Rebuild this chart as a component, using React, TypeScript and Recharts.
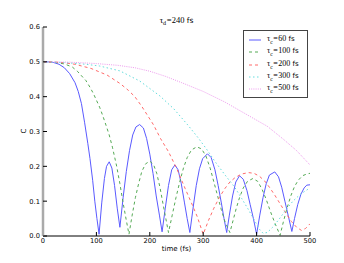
import { LineChart, Line, XAxis, YAxis } from 'recharts';

/* Coherence C(t) for several tau_c at tau_d = 240 fs. */

const X_TICKS = [0, 100, 200, 300, 400, 500];
const Y_TICKS = [0, 0.1, 0.2, 0.3, 0.4, 0.5, 0.6];

const T60 = [0, 10, 20, 30, 40, 50, 60, 66, 72, 78, 84, 88, 93, 97, 101, 105, 110, 115, 119, 124, 129, 134, 139, 144, 150, 156, 162, 168, 174, 181, 188, 194, 200, 206, 212, 218, 223, 229, 235, 241, 247, 253, 259, 265, 270, 275, 281, 287, 293, 299, 308, 315, 322, 328, 334, 339, 344, 349, 355, 361, 368, 375, 382, 388, 394, 400, 406, 412, 418, 424, 434, 441, 447, 453, 459, 466, 471, 477, 483, 489, 494, 500];
const C60 = [0.5, 0.5, 0.498, 0.493, 0.483, 0.466, 0.44, 0.415, 0.38, 0.325, 0.265, 0.222, 0.16, 0.1, 0.05, 0.005, 0.095, 0.165, 0.2, 0.213, 0.195, 0.145, 0.08, 0.025, 0.11, 0.185, 0.245, 0.29, 0.313, 0.32, 0.31, 0.28, 0.235, 0.18, 0.115, 0.06, 0.012, 0.08, 0.145, 0.19, 0.204, 0.19, 0.15, 0.095, 0.05, 0.01, 0.08, 0.145, 0.193, 0.222, 0.236, 0.225, 0.19, 0.145, 0.095, 0.05, 0.01, 0.06, 0.115, 0.155, 0.173, 0.163, 0.13, 0.09, 0.05, 0.005, 0.06, 0.11, 0.15, 0.175, 0.184, 0.17, 0.14, 0.1, 0.06, 0.013, 0.05, 0.09, 0.12, 0.138, 0.146, 0.147];

const T100 = [0, 20, 40, 55, 65, 75, 80, 88, 94, 100, 106, 112, 118, 124, 130, 138, 144, 150, 156, 161, 167, 173, 179, 185, 192, 200, 207, 213, 219, 225, 230, 235, 242, 249, 256, 263, 270, 278, 288, 297, 305, 313, 320, 327, 334, 341, 350, 356, 362, 368, 375, 383, 393, 402, 410, 418, 426, 434, 444, 450, 457, 464, 471, 478, 486, 494, 500];
const C100 = [0.5, 0.499, 0.494, 0.485, 0.472, 0.455, 0.447, 0.427, 0.41, 0.39, 0.37, 0.345, 0.318, 0.29, 0.255, 0.2, 0.15, 0.095, 0.045, 0.005, 0.06, 0.11, 0.15, 0.185, 0.207, 0.215, 0.205, 0.18, 0.14, 0.09, 0.05, 0.01, 0.06, 0.11, 0.155, 0.195, 0.225, 0.247, 0.256, 0.25, 0.23, 0.195, 0.155, 0.115, 0.075, 0.04, 0.01, 0.045, 0.08, 0.11, 0.138, 0.157, 0.165, 0.157, 0.135, 0.105, 0.07, 0.038, 0.002, 0.04, 0.08, 0.115, 0.142, 0.16, 0.173, 0.178, 0.18];

const T200 = [0, 30, 60, 90, 120, 145, 160, 172, 185, 195, 207, 220, 235, 250, 266, 278, 289, 300, 310, 320, 330, 340, 350, 360, 372, 385, 395, 405, 415, 425, 435, 445, 455, 465, 475, 484, 492, 500];
const C200 = [0.5, 0.499, 0.493, 0.481, 0.462, 0.437, 0.418, 0.4, 0.372, 0.348, 0.319, 0.28, 0.242, 0.195, 0.137, 0.095, 0.055, 0.005, 0.045, 0.08, 0.11, 0.135, 0.155, 0.168, 0.178, 0.182, 0.18, 0.172, 0.158, 0.138, 0.115, 0.09, 0.065, 0.042, 0.025, 0.016, 0.022, 0.035];

const T300 = [0, 40, 80, 106, 144, 181, 219, 245, 271, 290, 306, 323, 341, 359, 372, 385, 396, 405, 412, 420, 430, 442, 455, 468, 482, 500];
const C300 = [0.5, 0.498, 0.493, 0.488, 0.474, 0.445, 0.402, 0.365, 0.319, 0.283, 0.25, 0.212, 0.175, 0.14, 0.108, 0.075, 0.045, 0.02, 0.008, 0.01, 0.025, 0.048, 0.075, 0.1, 0.12, 0.138];

const T500 = [0, 50, 100, 140, 172, 200, 230, 260, 300, 340, 380, 420, 450, 475, 500];
const C500 = [0.5, 0.499, 0.495, 0.49, 0.483, 0.473, 0.458, 0.44, 0.415, 0.385, 0.35, 0.315, 0.278, 0.245, 0.204];

const zip = (ts: number[], cs: number[]) => ts.map((t, i) => ({ t, c: cs[i] }));

const SERIES = [
  { tau: 60, data: zip(T60, C60), color: '#5a5aff', dash: undefined as string | undefined },
  { tau: 100, data: zip(T100, C100), color: '#55aa55', dash: '3 3' },
  { tau: 200, data: zip(T200, C200), color: '#ff6b6b', dash: '3 3' },
  { tau: 300, data: zip(T300, C300), color: '#66dddd', dash: '1.5 2.5' },
  { tau: 500, data: zip(T500, C500), color: '#ee99ee', dash: '1 1.2' },
];

const SANS = 'DejaVu Sans, sans-serif';
const SERIF = 'Liberation Serif, DejaVu Serif, serif';
const tickFont = { fontSize: 6.7, fill: '#000', fontFamily: SANS };

// legend drawn as a plain overlay: recharts' <Legend> steals height from the plot
function LegendBox() {
  return (
    <div
      style={{
        position: 'absolute',
        left: 243,
        top: 30,
        border: '1px solid #444',
        background: '#fff',
        padding: '3px 3px 2px 4px',
        width: 56,
        boxSizing: 'content-box',
      }}
    >
      {SERIES.map((s) => (
        <div key={s.tau} style={{ display: 'flex', alignItems: 'center', height: 12.3 }}>
          <svg width={14} height={6} style={{ marginRight: 5 }}>
            <line x1={1} y1={3} x2={13} y2={3} stroke={s.color} strokeWidth={1} strokeDasharray={s.dash} />
          </svg>
          <span style={{ fontFamily: SERIF, fontSize: 8, whiteSpace: 'nowrap', lineHeight: 1 }}>
            τ<sub style={{ fontSize: 5.5 }}>c</sub>
            <span style={{ margin: '0 0.5px' }}>=</span>
            {s.tau}
            <span style={{ fontFamily: SANS, fontSize: 7 }}> fs</span>
          </span>
        </div>
      ))}
    </div>
  );
}

export default function App() {
  return (
    <div style={{ position: 'absolute', left: 0, top: 0, width: 344, height: 263, background: '#fff' }}>
      <LineChart width={344} height={263} margin={{ top: 27, right: 34, bottom: 0, left: 0 }}>
        <XAxis
          dataKey="t"
          type="number"
          domain={[0, 500]}
          ticks={X_TICKS}
          allowDataOverflow
          height={27}
          tick={tickFont}
          tickSize={-4}
          tickMargin={6}
          stroke="#000"
          axisLine={{ stroke: '#000', strokeWidth: 1 }}
          tickLine={{ stroke: '#000' }}
        />
        <XAxis
          xAxisId="top"
          orientation="top"
          dataKey="t"
          type="number"
          domain={[0, 500]}
          ticks={X_TICKS}
          height={0}
          tick={() => <g />}
          tickSize={-4}
          axisLine={{ stroke: '#000', strokeWidth: 1 }}
          tickLine={{ stroke: '#000' }}
        />
        <YAxis
          type="number"
          domain={[0, 0.6]}
          ticks={Y_TICKS}
          width={43}
          tick={tickFont}
          tickFormatter={(v: number) => v.toFixed(1)}
          tickSize={-4}
          tickMargin={7}
          axisLine={{ stroke: '#aaaaaa', strokeWidth: 2.5 }}
          tickLine={{ stroke: '#000' }}
        />
        <YAxis
          yAxisId="right"
          orientation="right"
          type="number"
          domain={[0, 0.6]}
          ticks={Y_TICKS}
          width={0}
          tick={() => <g />}
          tickSize={-4}
          axisLine={{ stroke: '#000', strokeWidth: 1 }}
          tickLine={{ stroke: '#000' }}
        />
        {SERIES.map((s) => (
          <Line
            key={s.tau}
            data={s.data}
            dataKey="c"
            type="linear"
            stroke={s.color}
            strokeWidth={1}
            strokeDasharray={s.dash}
            dot={false}
            activeDot={false}
            isAnimationActive={false}
          />
        ))}
      </LineChart>
      <svg width={344} height={263} style={{ position: 'absolute', left: 0, top: 0, pointerEvents: 'none' }}>
        <text x={176.5} y={23} textAnchor="middle" fontFamily={SERIF} fontSize={8.5} fill="#000">
          τ<tspan fontSize={6} dy={2}>d</tspan>
          <tspan dy={-2} dx={0.8}>=240</tspan>
          <tspan fontFamily={SANS} fontSize={7.5}> fs</tspan>
        </text>
        <text x={176.5} y={251} textAnchor="middle" fontFamily={SANS} fontSize={7} fill="#000">
          time (fs)
        </text>
        <text x={26} y={131} textAnchor="middle" fontFamily={SANS} fontSize={7} fill="#000" transform="rotate(-90 26 131)">
          C
        </text>
      </svg>
      <LegendBox />
    </div>
  );
}
